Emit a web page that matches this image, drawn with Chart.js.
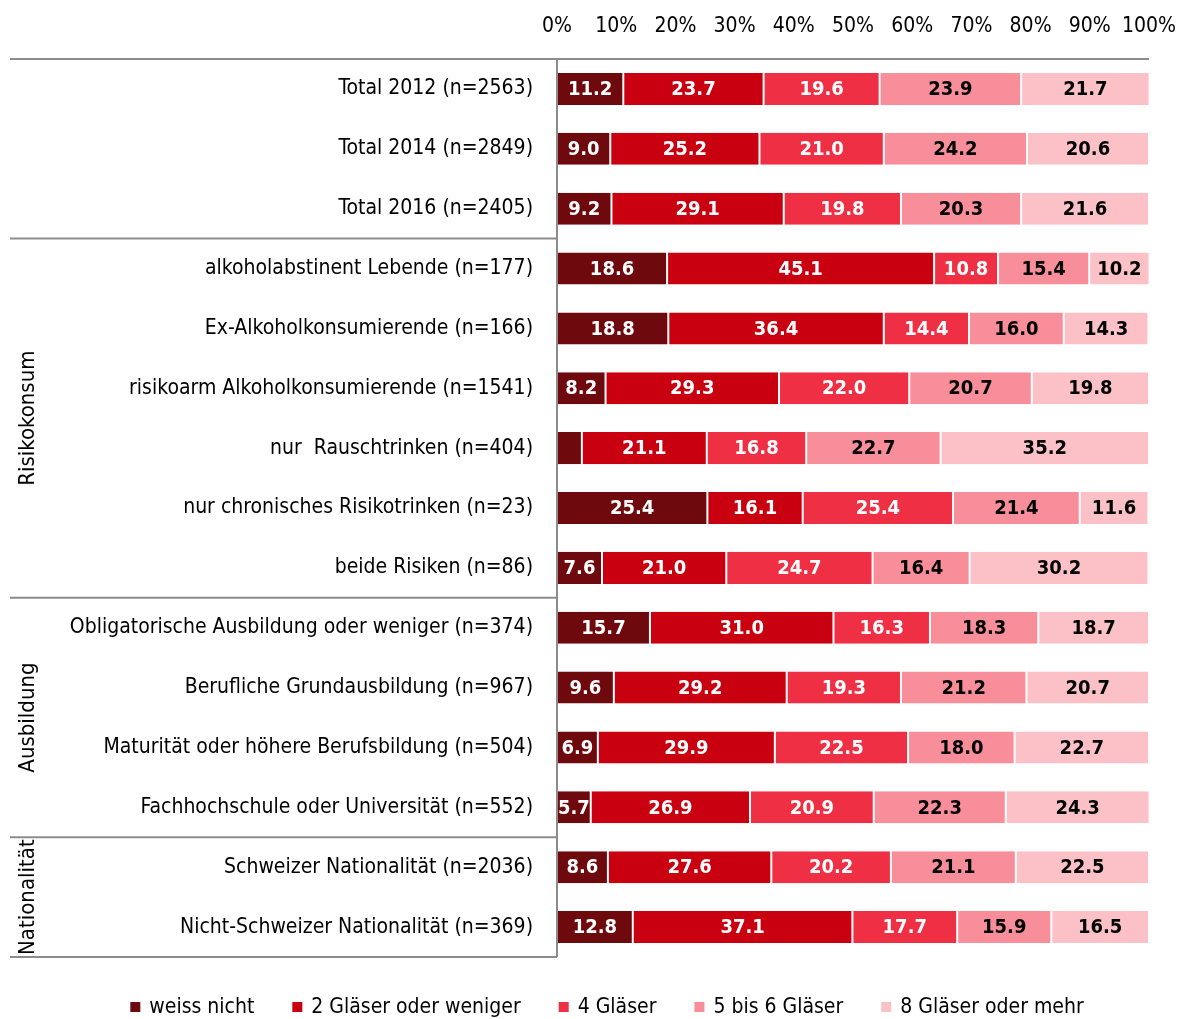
<!DOCTYPE html>
<html>
<head>
<meta charset="utf-8">
<script src="https://cdn.jsdelivr.net/npm/chart.js@4/dist/chart.umd.min.js"></script>
<style>
  html, body { margin: 0; padding: 0; background: #fff; }
  canvas { display: block; }
</style>
</head>
<body>
<canvas id="chart" width="1180" height="1019"></canvas>
<script>
const categories = [
  "Total 2012 (n=2563)",
  "Total 2014 (n=2849)",
  "Total 2016 (n=2405)",
  "alkoholabstinent Lebende (n=177)",
  "Ex-Alkoholkonsumierende (n=166)",
  "risikoarm Alkoholkonsumierende (n=1541)",
  "nur  Rauschtrinken (n=404)",
  "nur chronisches Risikotrinken (n=23)",
  "beide Risiken (n=86)",
  "Obligatorische Ausbildung oder weniger (n=374)",
  "Berufliche Grundausbildung (n=967)",
  "Maturität oder höhere Berufsbildung (n=504)",
  "Fachhochschule oder Universität (n=552)",
  "Schweizer Nationalität (n=2036)",
  "Nicht-Schweizer Nationalität (n=369)"
];

const weissNicht  = [11.2, 9.0, 9.2, 18.6, 18.8, 8.2, 4.2, 25.4, 7.6, 15.7, 9.6, 6.9, 5.7, 8.6, 12.8];
const zweiGlaeser = [23.7, 25.2, 29.1, 45.1, 36.4, 29.3, 21.1, 16.1, 21.0, 31.0, 29.2, 29.9, 26.9, 27.6, 37.1];
const vierGlaeser = [19.6, 21.0, 19.8, 10.8, 14.4, 22.0, 16.8, 25.4, 24.7, 16.3, 19.3, 22.5, 20.9, 20.2, 17.7];
const fuenfSechs  = [23.9, 24.2, 20.3, 15.4, 16.0, 20.7, 22.7, 21.4, 16.4, 18.3, 21.2, 18.0, 22.3, 21.1, 15.9];
const achtMehr    = [21.7, 20.6, 21.6, 10.2, 14.3, 19.8, 35.2, 11.6, 30.2, 18.7, 20.7, 22.7, 24.3, 22.5, 16.5];

const seriesNames = ["weiss nicht", "2 Gläser oder weniger", "4 Gläser", "5 bis 6 Gläser", "8 Gläser oder mehr"];
const seriesColors = ["#6e0a0e", "#c8000f", "#ef2f44", "#f78e99", "#fbc1c7"];
const labelColors = ["#ffffff", "#ffffff", "#ffffff", "#000000", "#000000"];

// group captions on the far left (first/last row index)
const groups = [
  { label: "Risikokonsum", from: 3, to: 8 },
  { label: "Ausbildung", from: 9, to: 12 },
  { label: "Nationalität", from: 13, to: 14 }
];
const separatorsAfter = [2, 8, 12];

const FONT = '"Liberation Sans Narrow", "Arial Narrow", "DejaVu Sans Condensed", sans-serif';
const LINE = "#8c8c8c";

const seriesData = [weissNicht, zweiGlaeser, vierGlaeser, fuenfSechs, achtMehr];

// value labels inside the segments
const barLabels = {
  id: 'barLabels',
  afterDatasetsDraw(chart) {
    const ctx = chart.ctx;
    ctx.save();
    ctx.font = 'bold 20px ' + FONT;
    ctx.textAlign = 'center';
    ctx.textBaseline = 'middle';
    chart.data.datasets.forEach((ds, di) => {
      const meta = chart.getDatasetMeta(di);
      meta.data.forEach((bar, i) => {
        const v = ds.data[i];
        if (v < 5) return;
        const cx = (bar.x + bar.base) / 2;
        ctx.fillStyle = labelColors[di];
        ctx.fillText(v.toFixed(1), cx, bar.y + 1);
      });
    });
    ctx.restore();
  }
};

// frame lines, group captions and legend
const frame = {
  id: 'frame',
  afterDraw(chart) {
    const ctx = chart.ctx;
    const a = chart.chartArea;
    const y = chart.scales.y;
    const step = y.getPixelForValue(1) - y.getPixelForValue(0);
    ctx.save();
    ctx.strokeStyle = LINE;
    ctx.lineWidth = 2;
    ctx.beginPath();
    ctx.moveTo(10, a.top); ctx.lineTo(a.right, a.top);
    ctx.moveTo(a.left, a.top); ctx.lineTo(a.left, a.bottom);
    separatorsAfter.forEach(i => {
      const yy = y.getPixelForValue(i) + step / 2;
      ctx.moveTo(10, yy); ctx.lineTo(a.left, yy);
    });
    ctx.moveTo(10, a.bottom); ctx.lineTo(a.left, a.bottom);
    ctx.stroke();

    ctx.fillStyle = '#000';
    ctx.font = '22px ' + FONT;
    ctx.textAlign = 'center';
    ctx.textBaseline = 'middle';
    groups.forEach(g => {
      const yc = (y.getPixelForValue(g.from) + y.getPixelForValue(g.to)) / 2;
      ctx.save();
      ctx.translate(28, yc);
      ctx.rotate(-Math.PI / 2);
      ctx.fillText(g.label, 0, 0);
      ctx.restore();
    });

    // legend
    ctx.font = '21px ' + FONT;
    const box = 10, gapText = 9, gapItem = 38;
    const widths = seriesNames.map(n => ctx.measureText(n).width);
    const total = widths.reduce((s, w) => s + box + gapText + w, 0) + gapItem * (seriesNames.length - 1);
    let x = 607 - total / 2;
    const ly = 1007;
    ctx.textAlign = 'left';
    seriesNames.forEach((n, i) => {
      ctx.fillStyle = seriesColors[i];
      ctx.fillRect(x, ly - 5, box, box);
      ctx.fillStyle = '#000';
      ctx.fillText(n, x + box + gapText, ly + 1);
      x += box + gapText + widths[i] + gapItem;
    });
    ctx.restore();
  }
};

new Chart(document.getElementById('chart'), {
  type: 'bar',
  data: {
    labels: categories,
    datasets: seriesData.map((d, i) => ({
      label: seriesNames[i],
      data: d,
      backgroundColor: seriesColors[i],
      borderColor: '#ffffff',
      borderWidth: { left: 1, right: 1, top: 0, bottom: 0 },
      borderSkipped: false,
      barPercentage: 0.535,
      categoryPercentage: 1
    }))
  },
  options: {
    indexAxis: 'y',
    responsive: false,
    animation: false,
    maintainAspectRatio: false,
    layout: { padding: { left: 0, right: 31, top: 0, bottom: 62 } },
    plugins: {
      legend: { display: false },
      tooltip: { enabled: false }
    },
    scales: {
      x: {
        position: 'top',
        stacked: true,
        min: 0,
        max: 100,
        grid: { display: false, drawTicks: false },
        border: { display: false },
        ticks: {
          stepSize: 10,
          padding: 20,
          color: '#000',
          font: { family: FONT, size: 21 },
          maxRotation: 0,
          autoSkip: false,
          callback: v => v + '%'
        },
        afterFit(scale) {
          scale.height = 59;
          scale.paddingLeft = 0;
          scale.paddingRight = 0;
        }
      },
      y: {
        stacked: true,
        grid: { display: false, drawTicks: false },
        border: { display: false },
        ticks: {
          padding: 24,
          color: '#000',
          font: { family: FONT, size: 21 },
          autoSkip: false
        },
        afterFit(scale) { scale.width = 557; }
      }
    }
  },
  plugins: [barLabels, frame]
});
</script>
</body>
</html>
